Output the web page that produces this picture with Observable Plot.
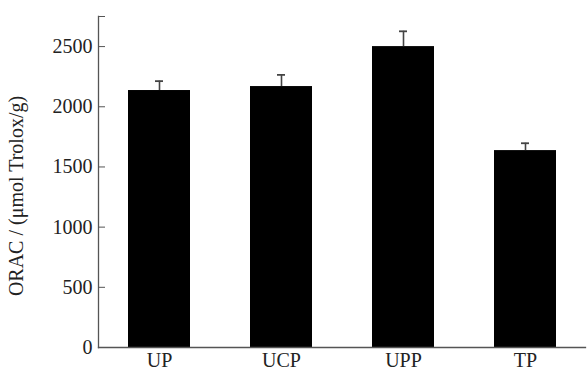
<!DOCTYPE html>
<html>
<head>
<meta charset="utf-8">
<script src="https://cdn.jsdelivr.net/npm/d3@7"></script>
<script src="https://cdn.jsdelivr.net/npm/@observablehq/plot@0.6"></script>
<style>
  html, body { margin: 0; padding: 0; background: #fff; }
  #chart svg { display: block; }
</style>
</head>
<body>
<div id="chart"></div>
<script>
const categories = ["UP", "UCP", "UPP", "TP"];
const values = [2135, 2168, 2500, 1636];
const errors = [78, 97, 127, 61];
const labeledTicks = [0, 500, 1000, 1500, 2000, 2500];
const markTicks = [0, 500, 1000, 1500, 2000, 2500, 2750];
const yLabel = "ORAC / (μmol Trolox/g)";

const data = categories.map((c, i) => ({cat: c, v: values[i], e: errors[i], top: values[i] + errors[i]}));

const font = "'Liberation Serif', 'Times New Roman', serif";

const chart = Plot.plot({
  width: 587,
  height: 371,
  marginLeft: 98,
  marginRight: 2,
  marginTop: 16,
  marginBottom: 24,
  style: {fontFamily: font, fontSize: "20px", color: "#222", background: "#fff"},
  x: {domain: categories, paddingInner: 0.493, paddingOuter: 0.236, label: null},
  y: {domain: [0, 2750], label: null},
  marks: [
    Plot.barY(data, {x: "cat", y: "v", fill: "#000"}),
    Plot.ruleX(data, {x: "cat", y1: "v", y2: "top", stroke: "#444", strokeWidth: 1.6}),
    Plot.tickY(data, {x: "cat", y: "top", stroke: "#444", strokeWidth: 1.8, inset: 27}),
    Plot.frame({anchor: "left", stroke: "#555", strokeWidth: 1.3}),
    Plot.frame({anchor: "bottom", stroke: "#555", strokeWidth: 1.3}),
    Plot.axisY(markTicks, {fill: "none", stroke: "#555", tickSize: 7, dx: 7, label: null}),
    Plot.axisY(labeledTicks, {tickSize: 0, tickPadding: 6, label: null, fontSize: 20, tickFormat: d3.format("d")}),
    Plot.axisX({tickSize: 0, tickPadding: 5, label: null, fontSize: 20}),
    Plot.text([yLabel], {frameAnchor: "left", textAnchor: "middle", lineAnchor: "middle", rotate: -90, dx: -82, dy: 14, fontSize: 20, fill: "#222"})
  ]
});

document.getElementById("chart").appendChild(chart);
</script>
</body>
</html>
